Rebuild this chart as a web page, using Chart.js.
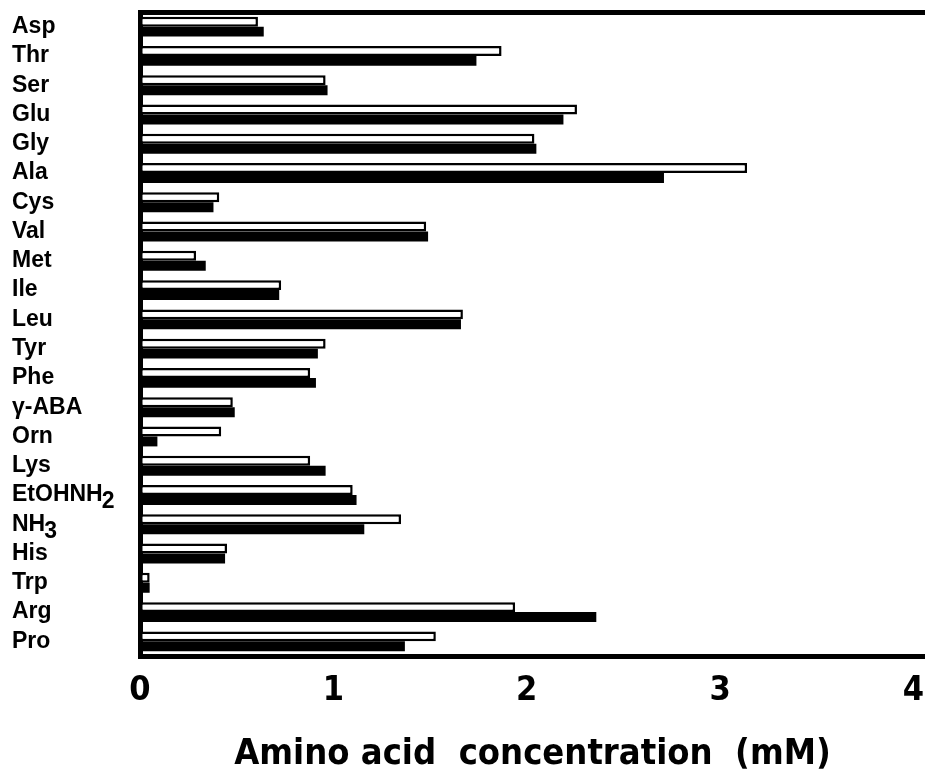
<!DOCTYPE html>
<html>
<head>
<meta charset="utf-8">
<script src="https://cdn.jsdelivr.net/npm/chart.js@4"></script>
<style>
  body { margin: 0; background: #fff; }
  #wrap { width: 925px; height: 778px; position: relative; }
</style>
</head>
<body>
<div id="wrap"><canvas id="aminoChart"></canvas></div>
<script>
// Amino acid names, top to bottom (trailing digit is drawn as subscript)
const categories = ['Asp', 'Thr', 'Ser', 'Glu', 'Gly', 'Ala', 'Cys', 'Val', 'Met', 'Ile', 'Leu',
    'Tyr', 'Phe', 'γ-ABA', 'Orn', 'Lys', 'EtOHNH2', 'NH3', 'His', 'Trp', 'Arg', 'Pro'];
// open (white) bars
const openValues = [0.61, 1.87, 0.96, 2.26, 2.04, 3.14, 0.41, 1.48, 0.29, 0.73, 1.67,
    0.96, 0.88, 0.48, 0.42, 0.88, 1.10, 1.35, 0.45, 0.05, 1.94, 1.53];
// filled (black) bars
const filledValues = [0.64, 1.74, 0.97, 2.19, 2.05, 2.71, 0.38, 1.49, 0.34, 0.72, 1.66,
    0.92, 0.91, 0.49, 0.09, 0.96, 1.12, 1.16, 0.44, 0.05, 2.36, 1.37];
const xTicks = [0, 1, 2, 3, 4];
const xMax = 4.06;

const labelFont = 'bold 23px "Liberation Sans", Arial, sans-serif';
const axisFamily = '"Liberation Sans Narrow", "DejaVu Sans Condensed", sans-serif';

// draws the amino acid names left of the axis, with subscript digits
const rowLabels = {
    id: 'rowLabels',
    afterDraw(chart) {
        const ctx = chart.ctx;
        const yScale = chart.scales.y;
        ctx.save();
        ctx.font = labelFont;
        ctx.fillStyle = '#000';
        ctx.textAlign = 'left';
        ctx.textBaseline = 'middle';
        categories.forEach((name, i) => {
            const y = yScale.getPixelForValue(i);
            const m = name.match(/^(.*?)(\d)$/);
            if (m) {
                ctx.fillText(m[1], 12, y);
                const w = ctx.measureText(m[1]).width;
                ctx.fillText(m[2], 12 + w - 1, y + 7);
            } else {
                ctx.fillText(name, 12, y);
            }
        });
        ctx.restore();
    }
};

const ctx = document.getElementById('aminoChart');
new Chart(ctx, {
    type: 'bar',
    data: {
        labels: categories,
        datasets: [{
            data: openValues,
            backgroundColor: '#fff',
            borderColor: '#000',
            borderWidth: 2.5,
            borderSkipped: false
        }, {
            data: filledValues,
            backgroundColor: '#000',
            borderColor: '#000',
            borderWidth: 0
        }]
    },
    options: {
        indexAxis: 'y',
        responsive: true,
        maintainAspectRatio: false,
        animation: false,
        layout: { padding: { left: 132, top: 4, right: 0, bottom: 2 } },
        datasets: { bar: { categoryPercentage: 0.68, barPercentage: 1.0 } },
        plugins: { legend: { display: false }, tooltip: { enabled: false } },
        scales: {
            y: {
                ticks: { display: false },
                grid: { display: false },
                border: { display: true, color: '#000', width: 5 }
            },
            x: {
                min: 0,
                max: xMax,
                afterBuildTicks: (scale) => { scale.ticks = xTicks.map(v => ({ value: v })); },
                afterFit: (scale) => { scale.paddingRight = 0; scale.paddingLeft = 0; },
                grid: { display: false },
                border: { display: true, color: '#000', width: 5 },
                ticks: {
                    color: '#000',
                    padding: 7,
                    maxRotation: 0,
                    font: { family: axisFamily, size: 34, weight: 'bold' }
                },
                title: {
                    display: true,
                    text: 'Amino acid  concentration  (mM)',
                    color: '#000',
                    padding: { top: 14, bottom: 0 },
                    font: { family: axisFamily, size: 36, weight: 'bold' }
                }
            },
            xTop: {
                position: 'top',
                min: 0,
                max: xMax,
                afterFit: (scale) => { scale.paddingRight = 0; scale.paddingLeft = 0; },
                ticks: { display: false },
                grid: { display: false },
                border: { display: true, color: '#000', width: 5 }
            }
        }
    },
    plugins: [rowLabels]
});
</script>
</body>
</html>
